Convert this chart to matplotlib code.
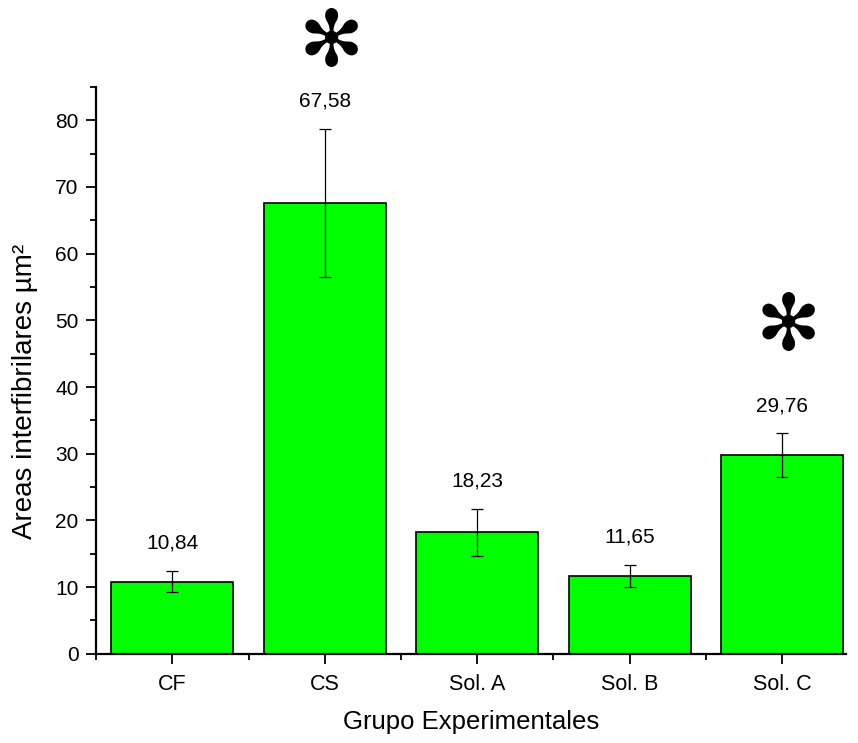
import matplotlib
matplotlib.use("Agg")
import matplotlib.pyplot as plt
from matplotlib.ticker import MultipleLocator, FixedLocator

plt.rcParams['font.family'] = ['Liberation Sans', 'DejaVu Sans']

categories = ["CF", "CS", "Sol. A", "Sol. B", "Sol. C"]
means = [10.84, 67.58, 18.23, 11.65, 29.76]
errors = [1.6, 11.1, 3.5, 1.7, 3.3]
value_labels = ["10,84", "67,58", "18,23", "11,65", "29,76"]
star_groups = ["CS", "Sol. C"]
star_y = [91.5, 48.8]

fig = plt.figure(figsize=(8.58, 7.43), dpi=100)
ax = fig.add_axes([0.112, 0.12, 0.874, 0.763])

x = list(range(len(categories)))
ax.bar(x, means, width=0.8, color="#00ff00", edgecolor="black", linewidth=1.2, zorder=2)
ax.errorbar(x, means, yerr=errors, fmt="none", ecolor="black", elinewidth=0.9,
            capsize=4.5, capthick=0.9, zorder=3)

for xi, m, e, lab in zip(x, means, errors, value_labels):
    ax.annotate(lab, xy=(xi, m + e), xytext=(0, 20), textcoords="offset points",
                ha="center", va="center", fontsize=15)

for g, sy in zip(star_groups, star_y):
    xi = categories.index(g)
    ax.text(xi + 0.04, sy, "\u273b", ha="center", va="center", fontsize=56,
            family=["DejaVu Sans"])

ax.set_xlim(-0.5, 4.42)
ax.set_ylim(0, 85)
ax.set_xticks(x)
ax.set_xticklabels(categories, fontsize=15.5)
ax.xaxis.set_minor_locator(FixedLocator([-0.5, 0.5, 1.5, 2.5, 3.5]))
ax.yaxis.set_major_locator(MultipleLocator(10))
ax.yaxis.set_minor_locator(MultipleLocator(5))
ax.tick_params(axis="both", which="major", direction="out", length=7, width=1.3, labelsize=15)
ax.tick_params(axis="x", which="major", labelsize=15.5, pad=7.5)
ax.tick_params(axis="y", which="major", pad=5.5)
ax.tick_params(axis="both", which="minor", direction="out", length=4, width=1.3)

for s in ["top", "right"]:
    ax.spines[s].set_visible(False)
for s in ["left", "bottom"]:
    ax.spines[s].set_linewidth(1.6)

ax.set_xlabel("Grupo Experimentales", fontsize=18.5, labelpad=11)
ax.set_ylabel("Areas interfibrilares µm²", fontsize=20)
ax.yaxis.set_label_coords(-0.077, 0.463)

fig.savefig("out.png", dpi=100)
